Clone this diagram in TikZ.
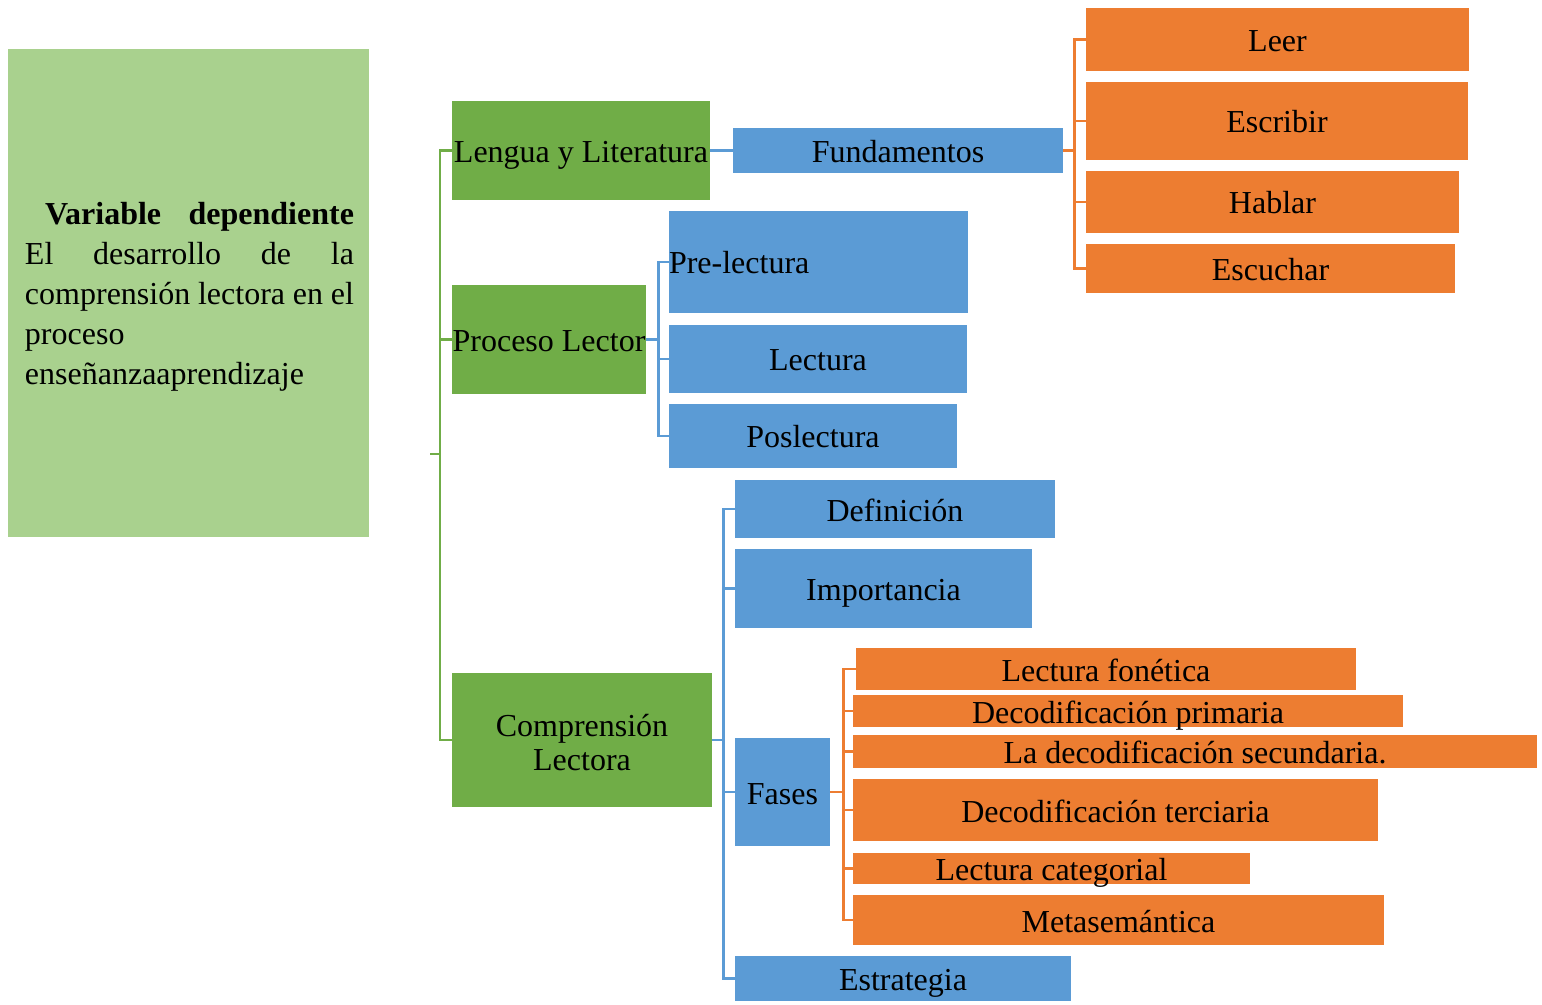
\documentclass[tikz,border=0pt]{standalone}
\usepackage{fontspec}
\setmainfont{Liberation Serif}
\definecolor{verdeclaro}{HTML}{A9D18E}
\definecolor{verde}{HTML}{70AD47}
\definecolor{azul}{HTML}{5B9BD5}
\definecolor{naranja}{HTML}{ED7D31}
\tikzset{
    caja/.style = {inner sep = 0pt, font = \fontsize{16}{17}\selectfont, align = center, text height = 12pt, text depth = 0pt},
    gcaja/.style = {caja, fill = verde},
    acaja/.style = {caja, fill = azul},
    ncaja/.style = {caja, fill = naranja},
    glinea/.style = {draw = verde, line width = 1.4pt},
    alinea/.style = {draw = azul, line width = 1.4pt},
    nlinea/.style = {draw = naranja, line width = 1.4pt}
}
\begin{document}
\begin{tikzpicture}[x = 0.5pt, y = -0.5pt]
        \useasboundingbox (0, 0) rectangle (1542, 1005);

        % variable
        \node [fill = verdeclaro, inner sep = 0pt, minimum width = 180.5pt, minimum height = 244pt] (var) at (188.5, 293) {};
        \node [inner sep = 0pt, text width = 164.5pt, align = left, font = \fontsize{16}{20}\selectfont] (vartxt) at (189.5, 296.5) {%
            \hbox to 164.5pt{\hspace*{10pt}\textbf{Variable}\hfil\textbf{dependiente}}
            \hbox to 164.5pt{El\hfil desarrollo\hfil de\hfil la}
            \hbox to 164.5pt{comprensión\hfil lectora\hfil en\hfil el}
            proceso\\
            enseñanzaaprendizaje};

        % nivel 1
        \node [gcaja, minimum width = 129pt, minimum height = 49.5pt] (lengua) at (581, 150.5) {Lengua y Literatura};
        \node [gcaja, minimum width = 97pt, minimum height = 54.5pt] (proceso) at (549, 339.5) {Proceso Lector};
        \node [gcaja, text height = 30pt, text depth = 0pt, minimum width = 130pt, minimum height = 67pt] (compren) at (582, 740) {Comprensión\\Lectora};

        % nivel 2
        \node [acaja, minimum width = 165pt, minimum height = 22.5pt] (fund) at (898, 150.5) {Fundamentos};
        \node [acaja, text width = 149.5pt, align = left, minimum height = 51pt] (prelec) at (818.5, 262) {Pre-lectura};
        \node [acaja, minimum width = 149pt, minimum height = 34pt] (lectura) at (818, 359) {Lectura};
        \node [acaja, minimum width = 144pt, minimum height = 32pt] (poslec) at (813, 436) {Poslectura};
        \node [acaja, minimum width = 160pt, minimum height = 29pt] (defin) at (895, 509) {Definición};
        \node [acaja, minimum width = 148.5pt, minimum height = 39.5pt] (import) at (883.5, 588.5) {Importancia};
        \node [acaja, minimum width = 47.5pt, minimum height = 54pt] (fases) at (782.5, 792) {Fases};
        \node [acaja, minimum width = 168pt, minimum height = 22.5pt] (estrat) at (903, 978.5) {Estrategia};

        % nivel 3
        \node [ncaja, minimum width = 191.5pt, minimum height = 31.5pt] (leer) at (1277.5, 39.5) {Leer};
        \node [ncaja, minimum width = 191pt, minimum height = 39pt] (escribir) at (1277, 121) {Escribir};
        \node [ncaja, minimum width = 186.5pt, minimum height = 31pt] (hablar) at (1272.5, 202) {Hablar};
        \node [ncaja, minimum width = 184.5pt, minimum height = 24.5pt] (escuchar) at (1270.5, 268.5) {Escuchar};
        \node [ncaja, minimum width = 250pt, minimum height = 21pt] (fonetica) at (1106, 669) {Lectura fonética};
        \node [ncaja, minimum width = 275pt, minimum height = 16pt] (primaria) at (1128, 711) {Decodificación primaria};
        \node [ncaja, minimum width = 342pt, minimum height = 16.5pt] (secund) at (1195, 751.5) {La decodificación secundaria.};
        \node [ncaja, minimum width = 262.5pt, minimum height = 31pt] (terc) at (1115.5, 810) {Decodificación terciaria};
        \node [ncaja, minimum width = 198.5pt, minimum height = 15.5pt] (categ) at (1051.5, 868.5) {Lectura categorial};
        \node [ncaja, minimum width = 265.5pt, minimum height = 25pt] (meta) at (1118.5, 920) {Metasemántica};

        % llaves
        \coordinate (gbus) at (440, 454);
        \coordinate (gcola) at (430, 454);
        \draw [glinea] (gcola) -- (gbus);
        \foreach \n in {lengua, proceso, compren}
            \draw [glinea] (gbus) |- (\n.west);

        \draw [alinea] (lengua) -- (fund);

        \draw [alinea] (proceso.east) -- ++(12, 0) coordinate (pbus);
        \foreach \n in {prelec, lectura, poslec}
            \draw [alinea] (pbus) |- (\n.west);

        \draw [alinea] (compren.east) -- ++(11, 0) coordinate (cbus);
        \foreach \n in {defin, import, fases, estrat}
            \draw [alinea] (cbus) |- (\n.west);

        \draw [nlinea] (fund.east) -- ++(11, 0) coordinate (fbus);
        \foreach \n in {leer, escribir, hablar, escuchar}
            \draw [nlinea] (fbus) |- (\n.west);

        \draw [nlinea] (fases.east) -- ++(13, 0) coordinate (fsbus);
        \foreach \n in {fonetica, primaria, secund, terc, categ, meta}
            \draw [nlinea] (fsbus) |- (\n.west);
    \end{tikzpicture}
\end{document}
